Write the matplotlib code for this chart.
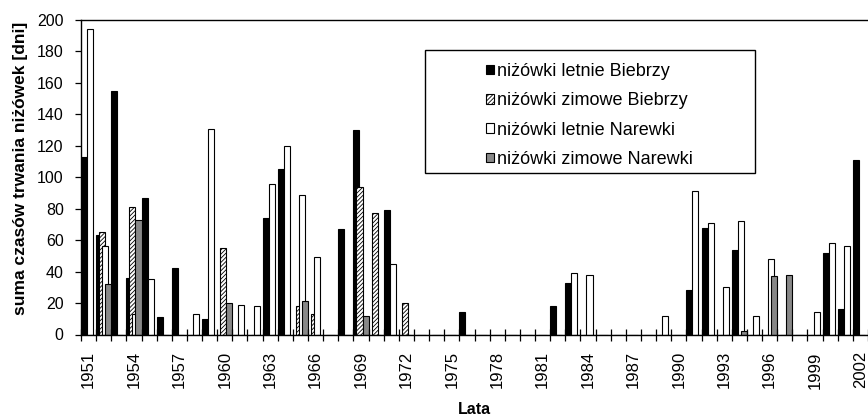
import matplotlib.pyplot as plt
import numpy as np
from matplotlib.patches import Patch, Rectangle

plt.rcParams["font.family"] = ["Liberation Sans", "DejaVu Sans"]
plt.rcParams["hatch.linewidth"] = 0.6

# %% data (days), years 1951-2002
years = list(range(1951, 2003))
letnie_biebrzy = [113, 63, 155, 36, 87, 11, 42, 0, 10, 0,
                  0, 0, 74, 105, 0, 0, 0, 67, 130, 0,
                  79, 0, 0, 0, 0, 14, 0, 0, 0, 0,
                  0, 18, 33, 0, 0, 0, 0, 0, 0, 0,
                  28, 68, 0, 54, 0, 0, 0, 0, 0, 52,
                  16, 111]
zimowe_biebrzy = [0, 65, 0, 81, 0, 0, 0, 0, 0, 55,
                  0, 0, 0, 0, 18, 13, 0, 0, 94, 77,
                  0, 20, 0, 0, 0, 0, 0, 0, 0, 0,
                  0, 0, 0, 0, 0, 0, 0, 0, 0, 0,
                  0, 0, 0, 0, 0, 0, 0, 0, 0, 0,
                  0, 0]
letnie_narewki = [194, 56, 0, 13, 35, 0, 0, 13, 131, 0,
                  19, 18, 96, 120, 89, 49, 0, 0, 0, 0,
                  45, 0, 0, 0, 0, 0, 0, 0, 0, 0,
                  0, 0, 39, 38, 0, 0, 0, 0, 12, 0,
                  91, 71, 30, 72, 12, 48, 0, 0, 14, 58,
                  56, 0]
zimowe_narewki = [0, 32, 0, 73, 0, 0, 0, 0, 0, 20,
                  0, 0, 0, 0, 21, 0, 0, 0, 12, 0,
                  0, 0, 0, 0, 0, 0, 0, 0, 0, 0,
                  0, 0, 0, 0, 0, 0, 0, 0, 0, 0,
                  0, 0, 0, 2, 0, 37, 38, 0, 0, 0,
                  0, 0]
series_labels = [
    "niżówki letnie Biebrzy",
    "niżówki zimowe Biebrzy",
    "niżówki letnie Narewki",
    "niżówki zimowe Narewki",
]

# %% figure
W, H = 868, 416
fig = plt.figure(figsize=(W / 100, H / 100), dpi=100)
ax = fig.add_axes([81 / W, (H - 334.5) / H, (W - 81) / W, (334.5 - 20) / H])

x = np.arange(len(years))
bar_w = 0.40
styles = [
    dict(facecolor="black", hatch=None),
    dict(facecolor="white", hatch="////////"),
    dict(facecolor="white", hatch=None),
    dict(facecolor="#888888", hatch=None),
]
all_series = [letnie_biebrzy, zimowe_biebrzy, letnie_narewki, zimowe_narewki]
for k, (vals, st) in enumerate(zip(all_series, styles)):
    ax.bar(x + 0.2 * k, vals, width=bar_w, align="edge",
           facecolor=st["facecolor"], hatch=st["hatch"],
           edgecolor="black", linewidth=0.8)

ax.set_xlim(0, (W - 81) / 15.22)
ax.set_ylim(0, 200)

# category boundaries as ticks, labels every 3rd year at the centre
ax.set_xticks(np.arange(0, len(years) + 1))
ax.set_xticklabels([])
ax.tick_params(axis="x", which="major", direction="inout", length=9, width=0.9)
label_idx = np.arange(0, len(years), 3)
ax.set_xticks(label_idx + 0.5, minor=True)
ax.set_xticklabels([str(years[i]) for i in label_idx], minor=True,
                   rotation=90, fontsize=12)
ax.tick_params(axis="x", which="minor", length=0, pad=12)

ax.set_yticks(np.arange(0, 201, 20))
ax.tick_params(axis="y", direction="out", length=4.5, width=0.9,
               labelsize=11.5, pad=8)

ax.spines["right"].set_visible(False)
for s in ("left", "bottom", "top"):
    ax.spines[s].set_linewidth(1.0)

fig.text(20.5 / W, (H - 168) / H, "suma czasów trwania niżówek [dni]",
         rotation=90, ha="center", va="center", fontsize=12.5,
         fontweight="bold")
fig.text(474 / W, (H - 409) / H, "Lata", ha="center", va="center",
         fontsize=11.5, fontweight="bold")

# legend with a separate square frame
fig.patches.append(Rectangle((425 / W, (H - 173) / H), 330 / W, 123 / H,
                             transform=fig.transFigure, facecolor="white",
                             edgecolor="black", linewidth=1.0, zorder=5))
handles = [Patch(facecolor=st["facecolor"], hatch=st["hatch"],
                 edgecolor="black", linewidth=0.8) for st in styles]
leg = fig.legend(handles, series_labels, loc="upper left",
                 bbox_to_anchor=(486 / W, (H - 63) / H),
                 bbox_transform=fig.transFigure, frameon=False,
                 fontsize=13, handlelength=0.42, handleheight=0.42,
                 handletextpad=0.2, labelspacing=0.68,
                 borderpad=0, borderaxespad=0)
leg.set_zorder(6)

fig.savefig("out.png", dpi=100)
